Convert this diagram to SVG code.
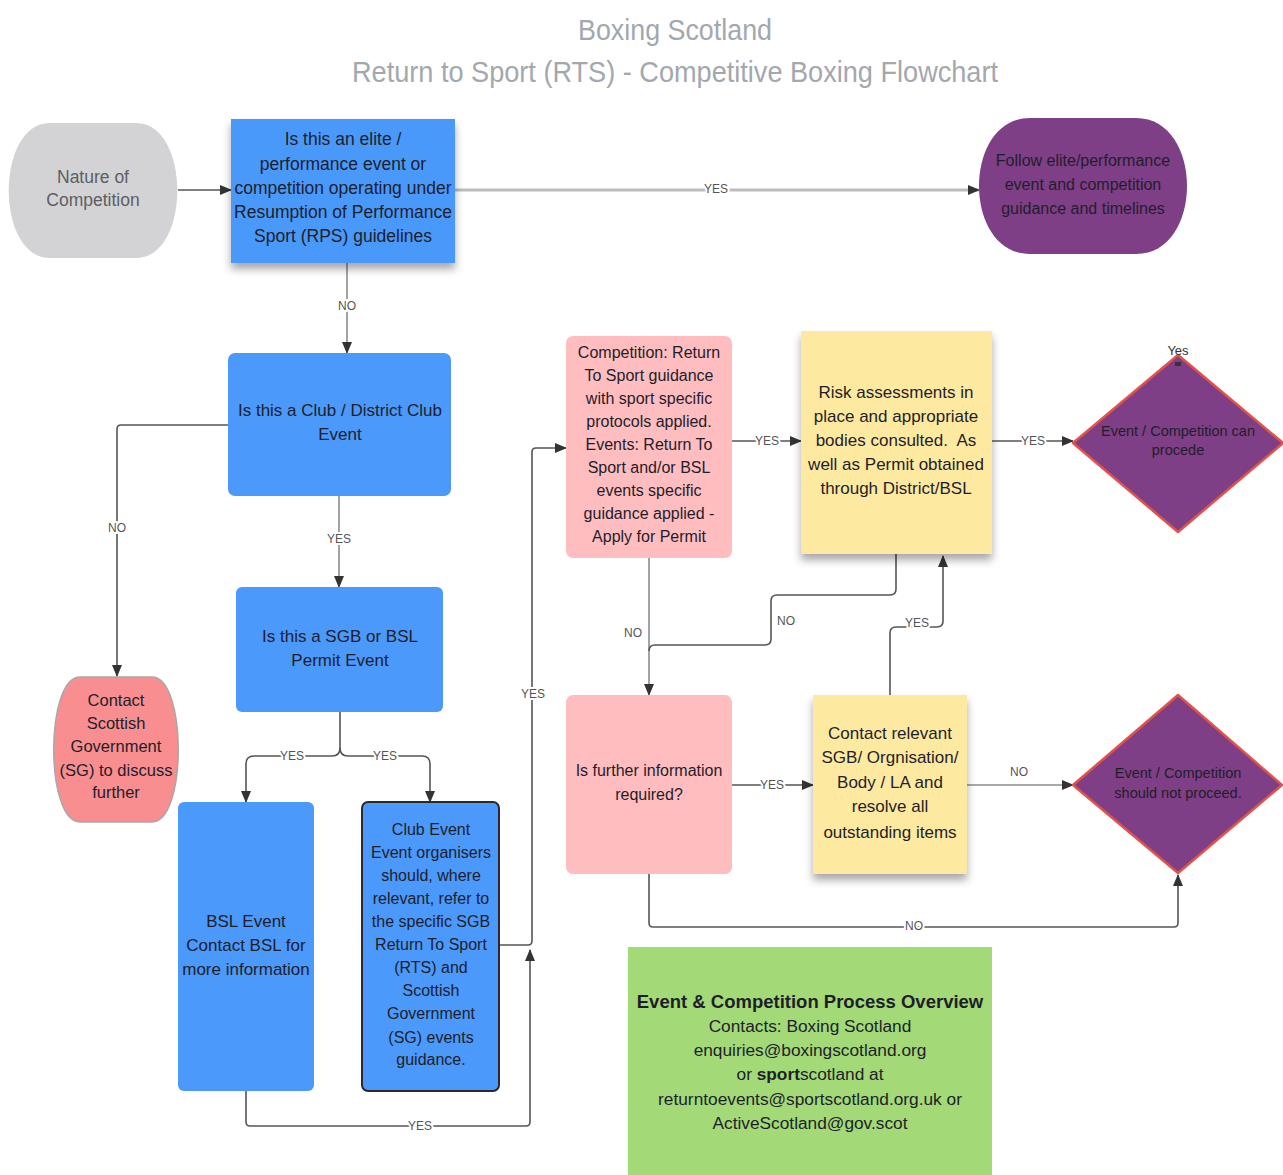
<svg xmlns="http://www.w3.org/2000/svg" width="1283" height="1175" viewBox="0 0 1283 1175">
<defs>
<marker id="arr" viewBox="0 0 12 10" refX="11" refY="5" markerWidth="12" markerHeight="10" markerUnits="userSpaceOnUse" orient="auto">
<path d="M0,0 L12,5 L0,10 Z" fill="#333"/>
</marker>
<filter id="sh" x="-10%" y="-10%" width="120%" height="130%">
<feDropShadow dx="0" dy="6" stdDeviation="4" flood-color="#000" flood-opacity="0.35"/>
</filter>
<style>
text{font-family:"Liberation Sans",Arial,sans-serif;}
.t{fill:#1e1e2a;text-anchor:middle;dominant-baseline:central;}
.title{fill:#a3a7ae;text-anchor:middle;font-size:30px;}
.c{fill:none;stroke:#8c8c8c;stroke-width:1.6;}
.cd{fill:none;stroke:#555;stroke-width:1.6;}
.lbl{font-size:12px;fill:#555;text-anchor:middle;dominant-baseline:central;stroke:#fff;stroke-width:4;paint-order:stroke;}
.blue{fill:#4a99fb;}
.purple{fill:#7e3f86;}
.dia{fill:#7e3f86;stroke:#e0524a;stroke-width:2.5;stroke-linejoin:round;}
.pink{fill:#ffbdc0;}
.yellow{fill:#fee9a0;}
</style>
</defs>
<rect width="1283" height="1175" fill="#fff"/>

<g id="title">
<text class="title" x="675" y="40" textLength="194" lengthAdjust="spacingAndGlyphs">Boxing Scotland</text>
<text class="title" x="675" y="82" textLength="646" lengthAdjust="spacingAndGlyphs">Return to Sport (RTS) - Competitive Boxing Flowchart</text>
</g>

<g id="connectors">
<path class="cd" d="M178,190 H231" marker-end="url(#arr)"/>
<path d="M455,190 H979" fill="none" stroke="#bdbdbd" stroke-width="3" marker-end="url(#arr)"/>
<text class="lbl" x="716" y="189">YES</text>
<path class="c" d="M347,263 V353" marker-end="url(#arr)"/>
<text class="lbl" x="347" y="306">NO</text>
<path class="cd" d="M228,425 H121 Q117,425 117,429 V676" marker-end="url(#arr)"/>
<text class="lbl" x="117" y="528">NO</text>
<path class="c" d="M339,496 V587" marker-end="url(#arr)"/>
<text class="lbl" x="339" y="539">YES</text>
<path class="cd" d="M340,712 V748 Q340,756 332,756 H254 Q246,756 246,764 V802" marker-end="url(#arr)"/>
<path class="cd" d="M340,748 Q340,756 348,756 H422 Q430,756 430,764 V802" marker-end="url(#arr)"/>
<text class="lbl" x="292" y="756">YES</text>
<text class="lbl" x="385" y="756">YES</text>
<path class="cd" d="M499,945 H528 Q532,945 532,941 V452 Q532,448 536,448 H566" marker-end="url(#arr)"/>
<text class="lbl" x="533" y="694">YES</text>
<path class="cd" d="M246,1091 V1122 Q246,1126 250,1126 H526 Q530,1126 530,1122 V950" marker-end="url(#arr)"/>
<text class="lbl" x="420" y="1126">YES</text>
<path class="cd" d="M732,441 H801" marker-end="url(#arr)"/>
<text class="lbl" x="767" y="441">YES</text>
<path class="cd" d="M992,441 H1073" marker-end="url(#arr)"/>
<text class="lbl" x="1033" y="441">YES</text>
<path class="c" d="M649,558 V695" marker-end="url(#arr)"/>
<text class="lbl" x="633" y="633">NO</text>
<path class="cd" d="M896,554 V589 Q896,595 890,595 H777 Q771,595 771,601 V639 Q771,645 765,645 H655 Q649,645 649,651"/>
<text class="lbl" x="786" y="621">NO</text>
<path class="cd" d="M890,695 V633 Q890,627 896,627 H937 Q943,627 943,621 V556" marker-end="url(#arr)"/>
<text class="lbl" x="917" y="623">YES</text>
<path class="cd" d="M732,785 H813" marker-end="url(#arr)"/>
<text class="lbl" x="772" y="785">YES</text>
<path class="c" d="M967,785 H1073" marker-end="url(#arr)"/>
<text class="lbl" x="1019" y="772">NO</text>
<path class="cd" d="M649,874 V923 Q649,927 653,927 H1174 Q1178,927 1178,923 V875" marker-end="url(#arr)"/>
<text class="lbl" x="914" y="926">NO</text>
</g>

<g id="nature">
<path d="M50,123 H136 C191,123 191,258 136,258 H50 C-5,258 -5,123 50,123 Z" fill="#d3d3d6"/>
<text class="t" style="fill:#5b5e64;font-size:17.5px"><tspan x="93" y="177">Nature of</tspan><tspan x="93" y="200">Competition</tspan></text>
</g>

<g id="elite">
<rect x="231" y="119" width="224" height="144" class="blue" filter="url(#sh)"/>
<text class="t" style="font-size:17.5px"><tspan x="343" y="139">Is this an elite /</tspan><tspan x="343" y="164">performance event or</tspan><tspan x="343" y="188">competition operating under</tspan><tspan x="343" y="212">Resumption of Performance</tspan><tspan x="343" y="236">Sport (RPS) guidelines</tspan></text>
</g>

<g id="follow">
<path d="M1030,118 H1136 C1204,118 1204,254 1136,254 H1030 C962,254 962,118 1030,118 Z" class="purple"/>
<text class="t" style="font-size:16px"><tspan x="1083" y="160">Follow elite/performance</tspan><tspan x="1083" y="184">event and competition</tspan><tspan x="1083" y="208">guidance and timelines</tspan></text>
</g>

<g id="club">
<rect x="228" y="353" width="223" height="143" rx="7" class="blue"/>
<text class="t" style="font-size:17px"><tspan x="340" y="410">Is this a Club / District Club</tspan><tspan x="340" y="434">Event</tspan></text>
</g>

<g id="sgb">
<rect x="236" y="587" width="207" height="125" rx="6" class="blue"/>
<text class="t" style="font-size:17px"><tspan x="340" y="636">Is this a SGB or BSL</tspan><tspan x="340" y="660">Permit Event</tspan></text>
</g>

<g id="contact-sg">
<path d="M80,677 H152 C187,677 187,822 152,822 H80 C45,822 45,677 80,677 Z" fill="#f88e8f" stroke="#a8a8a8" stroke-width="1.5"/>
<text class="t" style="font-size:16.5px"><tspan x="116" y="700">Contact</tspan><tspan x="116" y="723">Scottish</tspan><tspan x="116" y="746">Government</tspan><tspan x="116" y="770">(SG) to discuss</tspan><tspan x="116" y="792">further</tspan></text>
</g>

<g id="bsl">
<rect x="178" y="802" width="136" height="289" rx="6" class="blue"/>
<text class="t" style="font-size:17px"><tspan x="246" y="921">BSL Event</tspan><tspan x="246" y="945">Contact BSL for</tspan><tspan x="246" y="969">more information</tspan></text>
</g>

<g id="club-event">
<rect x="362" y="802" width="137" height="289" rx="6" class="blue" stroke="#2a2a2a" stroke-width="2"/>
<text class="t" style="font-size:16px"><tspan x="431" y="829">Club Event</tspan><tspan x="431" y="852">Event organisers</tspan><tspan x="431" y="875">should, where</tspan><tspan x="431" y="898">relevant, refer to</tspan><tspan x="431" y="921">the specific SGB</tspan><tspan x="431" y="944">Return To Sport</tspan><tspan x="431" y="967">(RTS) and</tspan><tspan x="431" y="990">Scottish</tspan><tspan x="431" y="1013">Government</tspan><tspan x="431" y="1037">(SG) events</tspan><tspan x="431" y="1059">guidance.</tspan></text>
</g>

<g id="competition">
<rect x="566" y="336" width="166" height="222" rx="7" class="pink"/>
<text class="t" style="font-size:16px"><tspan x="649" y="352">Competition: Return</tspan><tspan x="649" y="375">To Sport guidance</tspan><tspan x="649" y="398">with sport specific</tspan><tspan x="649" y="421">protocols applied.</tspan><tspan x="649" y="444">Events: Return To</tspan><tspan x="649" y="467">Sport and/or BSL</tspan><tspan x="649" y="490">events specific</tspan><tspan x="649" y="513">guidance applied -</tspan><tspan x="649" y="536">Apply for Permit</tspan></text>
</g>

<g id="risk">
<rect x="801" y="331" width="191" height="223" class="yellow" filter="url(#sh)"/>
<text class="t" style="font-size:17px"><tspan x="896" y="392">Risk assessments in</tspan><tspan x="896" y="416">place and appropriate</tspan><tspan x="896" y="440">bodies consulted.&#160; As</tspan><tspan x="896" y="464">well as Permit obtained</tspan><tspan x="896" y="488">through District/BSL</tspan></text>
</g>

<g id="proceed">
<polygon points="1073,443 1178,355 1283,443 1178,532" class="dia"/>
<text class="t" style="font-size:14.5px"><tspan x="1178" y="431">Event / Competition can</tspan><tspan x="1178" y="450">procede</tspan></text>
<text x="1178" y="350" style="font-size:13px;fill:#333;text-anchor:middle;dominant-baseline:central">Yes</text>
<rect x="1175" y="362" width="6" height="4" fill="#333"/>
</g>

<g id="further">
<rect x="566" y="695" width="166" height="179" rx="7" class="pink"/>
<text class="t" style="font-size:16px"><tspan x="649" y="770">Is further information</tspan><tspan x="649" y="794">required?</tspan></text>
</g>

<g id="contact-relevant">
<rect x="813" y="695" width="154" height="179" class="yellow" filter="url(#sh)"/>
<text class="t" style="font-size:17px"><tspan x="890" y="733">Contact relevant</tspan><tspan x="890" y="757">SGB/ Orgnisation/</tspan><tspan x="890" y="782">Body / LA and</tspan><tspan x="890" y="806">resolve all</tspan><tspan x="890" y="832">outstanding items</tspan></text>
</g>

<g id="not-proceed">
<polygon points="1073,785 1178,695 1282,785 1178,873" class="dia"/>
<text class="t" style="font-size:14.5px"><tspan x="1178" y="773">Event / Competition</tspan><tspan x="1178" y="793">should not proceed.</tspan></text>
</g>

<g id="overview">
<rect x="628" y="947" width="364" height="228" fill="#a3d977"/>
<text class="t" style="font-size:18.5px;font-weight:bold"><tspan x="810" y="1001">Event &amp; Competition Process Overview</tspan></text>
<text class="t" style="font-size:17.3px"><tspan x="810" y="1026">Contacts: Boxing Scotland</tspan><tspan x="810" y="1050">enquiries@boxingscotland.org</tspan><tspan x="810" y="1074">or <tspan font-weight="bold">sport</tspan>scotland at</tspan><tspan x="810" y="1099">returntoevents@sportscotland.org.uk or</tspan><tspan x="810" y="1123">ActiveScotland@gov.scot</tspan></text>
</g>
</svg>
